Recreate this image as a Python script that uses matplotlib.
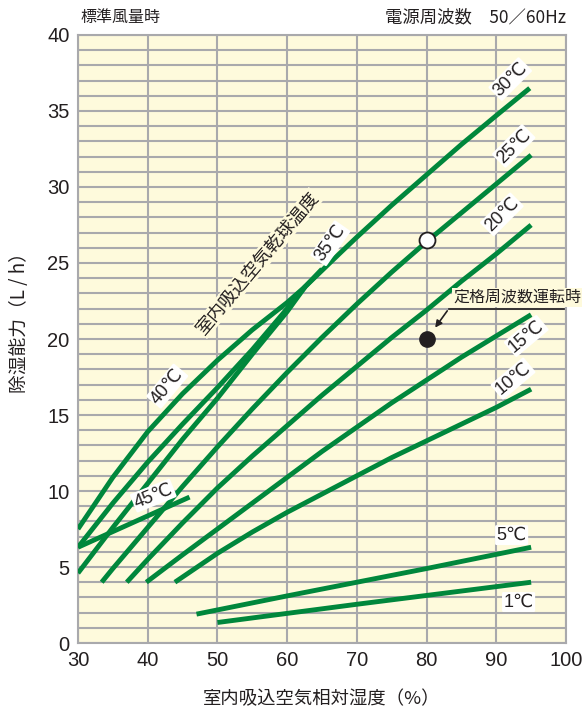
import matplotlib
matplotlib.use("Agg")
import matplotlib.pyplot as plt

# dehumidifying capacity (L/h) vs intake relative humidity (%), per dry-bulb temp
rh_45 = [30, 46]
dh_45 = [6.3, 9.6]

rh_40 = [30, 35, 40, 45, 50, 55, 60, 62.6]
dh_40 = [7.5, 10.9, 13.9, 16.4, 18.6, 20.6, 22.4, 23.45]

rh_35 = [30, 35, 40, 45, 50, 55, 60, 62.6, 65]
dh_35 = [6.3, 9.2, 11.9, 14.4, 16.8, 19.3, 22.0, 23.45, 24.6]

rh_30 = [30, 35, 40, 45, 50, 55, 60, 62.6, 67.7, 70, 75, 80, 85, 90, 94.8]
dh_30 = [4.6, 7.6, 10.5, 13.4, 16.1, 19.0, 21.8, 23.45, 25.7, 26.7, 28.8, 30.8, 32.8, 34.7, 36.5]

rh_25 = [33.4, 35, 40, 45, 50, 55, 60, 65, 70, 75, 80, 85, 90, 95]
dh_25 = [4.0, 4.9, 7.6, 10.3, 12.9, 15.4, 17.8, 20.1, 22.3, 24.4, 26.4, 28.3, 30.2, 32.1]

rh_20 = [37, 40, 45, 50, 55, 60, 65, 70, 75, 80, 85, 90, 95]
dh_20 = [4.0, 5.5, 7.9, 10.2, 12.3, 14.3, 16.3, 18.2, 20.1, 21.9, 23.8, 25.6, 27.5]

rh_15 = [39.8, 45, 50, 55, 60, 65, 70, 75, 80, 85, 90, 95]
dh_15 = [4.0, 5.8, 7.5, 9.2, 10.9, 12.6, 14.2, 15.8, 17.3, 18.8, 20.2, 21.6]

rh_10 = [43.9, 50, 55, 60, 65, 70, 75, 80, 85, 90, 95]
dh_10 = [4.0, 5.9, 7.3, 8.6, 9.8, 11.0, 12.2, 13.3, 14.4, 15.5, 16.7]

rh_5 = [47, 60, 70, 80, 95]
dh_5 = [1.9, 3.1, 4.0, 4.9, 6.3]

rh_1 = [50, 70, 95]
dh_1 = [1.35, 2.55, 4.0]

# marked operating points
point_open = (80, 26.5)
point_rated = (80, 20.0)

x_ticks = [30, 40, 50, 60, 70, 80, 90, 100]
y_ticks = [0, 5, 10, 15, 20, 25, 30, 35, 40]

GREEN = "#00873c"
BG = "#fefadc"
GRID = "#a9a9ac"
INK = "#231f20"
JP = ["Noto Sans CJK JP", "DejaVu Sans"]
NUM = ["Liberation Sans Narrow", "Liberation Sans", "DejaVu Sans"]

fig = plt.figure(figsize=(5.82, 7.11), dpi=100)
ax = fig.add_axes([0.134, 0.0956, 0.8385, 0.8552])
ax.set_facecolor(BG)
ax.set_xlim(30, 100)
ax.set_ylim(0, 40)

# grid: every 10 % across, every 1 L/h up
for gx in range(30, 101, 10):
    ax.axvline(gx, color=GRID, lw=1.5, zorder=1)
for gy in range(0, 41):
    ax.axhline(gy, color=GRID, lw=1.5, zorder=1)
for s in ax.spines.values():
    s.set_color(GRID)
    s.set_linewidth(1.5)

ax.set_xticks(x_ticks)
ax.set_yticks(y_ticks)
ax.tick_params(length=0, pad=6)
for lab in ax.get_xticklabels() + ax.get_yticklabels():
    lab.set_family(NUM)
    lab.set_fontsize(14.5)
    lab.set_color(INK)

curves = [
    (rh_45, dh_45), (rh_40, dh_40), (rh_35, dh_35), (rh_30, dh_30),
    (rh_25, dh_25), (rh_20, dh_20), (rh_15, dh_15), (rh_10, dh_10),
    (rh_5, dh_5), (rh_1, dh_1),
]
for xs, ys in curves:
    ax.plot(xs, ys, color=GREEN, lw=3.5, solid_capstyle="butt",
            solid_joinstyle="round", zorder=3)

ax.plot(*point_open, "o", ms=11.5, mfc="white", mec=INK, mew=1.3, zorder=5)
ax.plot(*point_rated, "o", ms=11, mfc=INK, mec=INK, zorder=5)

lbl_box = dict(boxstyle="round,pad=0.08", fc="white", ec="none")
labels = [
    ("30℃", 92.0, 37.1, 45),
    ("25℃", 92.5, 32.7, 45),
    ("20℃", 90.8, 28.2, 45),
    ("15℃", 94.3, 20.2, 40),
    ("10℃", 92.4, 17.4, 40),
    ("5℃", 92.2, 7.1, 0),
    ("1℃", 93.2, 2.7, 0),
    ("35℃", 66.2, 26.3, 55),
    ("40℃", 42.8, 16.9, 50),
    ("45℃", 40.8, 9.7, 22),
]
for txt, lx, ly, rot in labels:
    ax.text(lx, ly, txt, rotation=rot, ha="center", va="center",
            fontsize=13, family=NUM + ["Noto Sans CJK JP"], color=INK,
            bbox=lbl_box, zorder=6, rotation_mode="anchor")

ax.text(55.8, 25.0, "室内吸込空気乾球温度", rotation=50, ha="center",
        va="center", fontsize=13, family=JP, color=INK,
        rotation_mode="anchor",
        bbox=dict(boxstyle="square,pad=0.05", fc=BG, ec="none"), zorder=4)

# rated frequency callout
ax.annotate("", xy=(81.0, 20.6), xytext=(83.2, 22.0),
            arrowprops=dict(arrowstyle="-|>", color=INK, lw=1.2,
                            mutation_scale=10), zorder=6)
ax.plot([83.2, 99.7], [22.0, 22.0], color=INK, lw=1.2, zorder=6)
ax.text(83.8, 22.75, "定格周波数運転時", ha="left", va="center", fontsize=11.5,
        family=JP, color=INK, clip_on=False, zorder=6,
        bbox=dict(boxstyle="square,pad=0.05", fc=BG, ec="none"))

ax.set_ylabel("除湿能力（L / h）", family=JP, fontsize=13.5, color=INK)
ax.yaxis.set_label_coords(-0.098, 0.535)
ax.set_xlabel("室内吸込空気相対湿度（%）", family=JP, fontsize=13.2,
              color=INK, labelpad=14)

fig.text(0.138, 0.975, "標準風量時", family=JP, fontsize=11.5, color=INK,
         ha="left", va="center")
fig.text(0.972, 0.975, "電源周波数　50／60Hz", family=JP, fontsize=12.5,
         color=INK, ha="right", va="center")

fig.savefig("out.png", dpi=100)
